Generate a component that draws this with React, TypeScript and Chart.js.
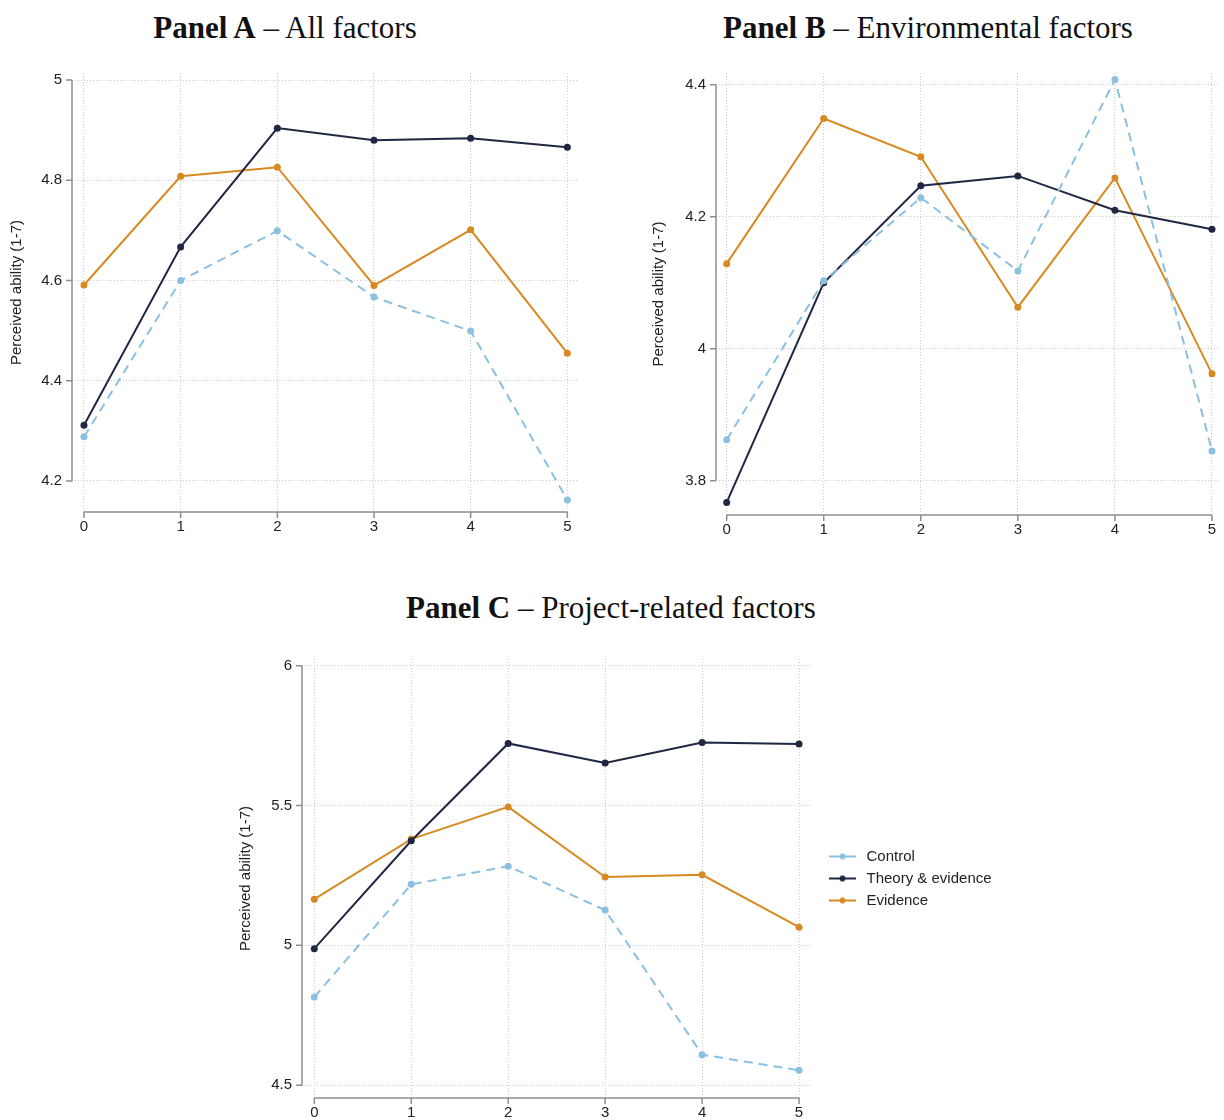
import React, { useEffect, useRef } from "react";
import { Chart, registerables } from "chart.js";

Chart.register(...registerables);

// ---- data ----
const WAVES = [0, 1, 2, 3, 4, 5];
const SERIES_NAMES = ["Control", "Theory & evidence", "Evidence"];

const A_CONTROL = [4.288, 4.6, 4.699, 4.567, 4.499, 4.162];
const A_THEORY = [4.311, 4.667, 4.904, 4.88, 4.884, 4.866];
const A_EVIDENCE = [4.591, 4.808, 4.826, 4.59, 4.701, 4.455];
const A_Y_TICKS = [4.2, 4.4, 4.6, 4.8, 5];

const B_CONTROL = [3.862, 4.103, 4.229, 4.118, 4.408, 3.845];
const B_THEORY = [3.767, 4.1, 4.247, 4.262, 4.21, 4.181];
const B_EVIDENCE = [4.129, 4.349, 4.291, 4.063, 4.259, 3.962];
const B_Y_TICKS = [3.8, 4, 4.2, 4.4];

const C_CONTROL = [4.815, 5.218, 5.283, 5.126, 4.609, 4.553];
const C_THEORY = [4.988, 5.374, 5.722, 5.652, 5.725, 5.72];
const C_EVIDENCE = [5.165, 5.38, 5.495, 5.244, 5.252, 5.065];
const C_Y_TICKS = [4.5, 5, 5.5, 6];

const Y_TITLE = "Perceived ability (1-7)";

// ---- styles ----
const COLORS = ["#8cc0e1", "#1f2743", "#d78a22"];
const AXIS_COLOR = "#8e8e8e";
const GRID_COLOR = "#cbcbcb";
const SANS = '"Liberation Sans", Arial, Helvetica, sans-serif';
const SERIF = '"Liberation Serif", "Times New Roman", serif';
const LEGEND_WIDTH = 184;

type PanelCfg = {
  left: number;
  top: number;
  w: number;
  h: number;
  pad: { left: number; top: number; right: number; bottom: number };
  yWidth: number;
  xHeight: number;
  titlePad: number;
  xMin: number;
  xMax: number;
  yMin: number;
  yMax: number;
  yTicks: number[];
  series: number[][];
  legend: boolean;
};

// Axis lines that span only the tick range, with outward tick marks
const rangeAxes = {
  id: "rangeAxes",
  beforeDatasetsDraw(chart: any) {
    const { ctx, chartArea, scales } = chart;
    const x = scales.x;
    const y = scales.y;
    const yp = y.ticks.map((t: any) => y.getPixelForValue(t.value));
    const xp = x.ticks.map((t: any) => x.getPixelForValue(t.value));
    ctx.save();
    ctx.strokeStyle = AXIS_COLOR;
    ctx.lineWidth = 1.5;
    ctx.setLineDash([]);
    ctx.beginPath();
    const ax = chartArea.left;
    ctx.moveTo(ax, Math.max(...yp));
    ctx.lineTo(ax, Math.min(...yp));
    yp.forEach((p: number) => {
      ctx.moveTo(ax, p);
      ctx.lineTo(ax - 6, p);
    });
    const ay = chartArea.bottom;
    ctx.moveTo(Math.min(...xp), ay);
    ctx.lineTo(Math.max(...xp), ay);
    xp.forEach((p: number) => {
      ctx.moveTo(p, ay);
      ctx.lineTo(p, ay + 6);
    });
    ctx.stroke();
    ctx.restore();
  },
};

function legendSwatch(color: string): HTMLCanvasElement {
  const c = document.createElement("canvas");
  c.width = 42;
  c.height = 10;
  const g = c.getContext("2d")!;
  g.strokeStyle = color;
  g.lineWidth = 2;
  g.beginPath();
  g.moveTo(12, 5);
  g.lineTo(39, 5);
  g.stroke();
  g.fillStyle = color;
  g.beginPath();
  g.arc(25.5, 5, 3, 0, Math.PI * 2);
  g.fill();
  return c;
}

function Panel({ cfg }: { cfg: PanelCfg }) {
  const ref = useRef<HTMLCanvasElement>(null);

  useEffect(() => {
    const datasets = cfg.series.map((vals, i) => ({
      label: SERIES_NAMES[i],
      data: WAVES.map((w, k) => ({ x: w, y: vals[k] })),
      borderColor: COLORS[i],
      backgroundColor: COLORS[i],
      pointBackgroundColor: COLORS[i],
      pointBorderWidth: 0,
      pointRadius: 3.5,
      borderWidth: 2,
      borderDash: i === 0 ? [9, 6] : [],
      tension: 0,
      clip: false as any,
    }));

    const chart = new Chart(ref.current!, {
      type: "line",
      data: { datasets },
      plugins: [rangeAxes],
      options: {
        animation: false,
        responsive: false,
        devicePixelRatio: 1,
        layout: { padding: cfg.pad },
        plugins: {
          tooltip: { enabled: false },
          legend: {
            display: cfg.legend,
            position: "right",
            fullSize: false,
            maxWidth: LEGEND_WIDTH,
            labels: {
              usePointStyle: true,
              pointStyleWidth: 42,
              padding: 7,
              color: "#222",
              font: { family: SANS, size: 15 },
              generateLabels: (ch: any) =>
                Chart.defaults.plugins.legend.labels
                  .generateLabels(ch)
                  .map((it: any, i: number) => ({
                    ...it,
                    pointStyle: legendSwatch(COLORS[i]),
                  })),
            },
          },
        },
        scales: {
          x: {
            type: "linear",
            min: cfg.xMin,
            max: cfg.xMax,
            afterBuildTicks: (s: any) => {
              s.ticks = WAVES.map((v) => ({ value: v }));
            },
            afterFit: (s: any) => {
              s.height = cfg.xHeight;
            },
            grid: { color: GRID_COLOR, drawTicks: false, lineWidth: 1 },
            border: { display: false, dash: [1, 2] },
            ticks: {
              padding: 6,
              color: "#222",
              font: { family: SANS, size: 15 },
              callback: (v: any) => String(v),
            },
          },
          y: {
            type: "linear",
            min: cfg.yMin,
            max: cfg.yMax,
            afterBuildTicks: (s: any) => {
              s.ticks = cfg.yTicks.map((v) => ({ value: v }));
            },
            afterFit: (s: any) => {
              s.width = cfg.yWidth;
            },
            grid: { color: GRID_COLOR, drawTicks: false, lineWidth: 1 },
            border: { display: false, dash: [1, 2] },
            ticks: {
              padding: 10,
              color: "#222",
              font: { family: SANS, size: 15 },
              callback: (v: any) => String(v),
            },
            title: {
              display: true,
              text: Y_TITLE,
              color: "#222",
              font: { family: SANS, size: 15 },
              padding: { top: cfg.titlePad, bottom: 0 },
            },
          },
        },
      } as any,
    });
    return () => chart.destroy();
  }, [cfg]);

  return (
    <canvas
      ref={ref}
      width={cfg.w}
      height={cfg.h}
      style={{
        position: "absolute",
        left: cfg.left,
        top: cfg.top,
        width: cfg.w,
        height: cfg.h,
      }}
    />
  );
}

const PANEL_A: PanelCfg = {
  left: 0,
  top: 50,
  w: 600,
  h: 510,
  pad: { left: 0, top: 23, right: 23, bottom: 0 },
  yWidth: 72,
  xHeight: 48,
  titlePad: 8,
  xMin: -0.124,
  xMax: 5.1,
  yMin: 4.138,
  yMax: 5.014,
  yTicks: A_Y_TICKS,
  series: [A_CONTROL, A_THEORY, A_EVIDENCE],
  legend: false,
};

const PANEL_B: PanelCfg = {
  left: 630,
  top: 50,
  w: 594,
  h: 510,
  pad: { left: 0, top: 23, right: 6, bottom: 0 },
  yWidth: 86,
  xHeight: 45,
  titlePad: 20,
  xMin: -0.11,
  xMax: 5.062,
  yMin: 3.748,
  yMax: 4.418,
  yTicks: B_Y_TICKS,
  series: [B_CONTROL, B_THEORY, B_EVIDENCE],
  legend: false,
};

const PANEL_C: PanelCfg = {
  left: 220,
  top: 640,
  w: 800,
  h: 480,
  pad: { left: 0, top: 15, right: 800 - 590 - LEGEND_WIDTH, bottom: 0 },
  yWidth: 82,
  xHeight: 22,
  titlePad: 17,
  xMin: -0.127,
  xMax: 5.113,
  yMin: 4.454,
  yMax: 6.024,
  yTicks: C_Y_TICKS,
  series: [C_CONTROL, C_THEORY, C_EVIDENCE],
  legend: true,
};

function PanelTitle({
  bold,
  rest,
  left,
  top,
  width,
}: {
  bold: string;
  rest: string;
  left: number;
  top: number;
  width: number;
}) {
  return (
    <div
      style={{
        position: "absolute",
        left,
        top,
        width,
        textAlign: "center",
        fontFamily: SERIF,
        fontSize: 31,
        lineHeight: "36px",
        color: "#111",
        whiteSpace: "nowrap",
      }}
    >
      <span style={{ fontWeight: 700 }}>{bold}</span>
      {rest}
    </div>
  );
}

export default function App() {
  return (
    <div
      style={{
        position: "absolute",
        left: 0,
        top: 0,
        width: 1224,
        height: 1120,
        background: "#fff",
        overflow: "hidden",
      }}
    >
      <PanelTitle bold="Panel A" rest=" – All factors" left={0} top={10} width={570} />
      <PanelTitle bold="Panel B" rest=" – Environmental factors" left={640} top={10} width={576} />
      <PanelTitle bold="Panel C" rest=" – Project-related factors" left={406} top={590} width={400} />
      <Panel cfg={PANEL_A} />
      <Panel cfg={PANEL_B} />
      <Panel cfg={PANEL_C} />
    </div>
  );
}
